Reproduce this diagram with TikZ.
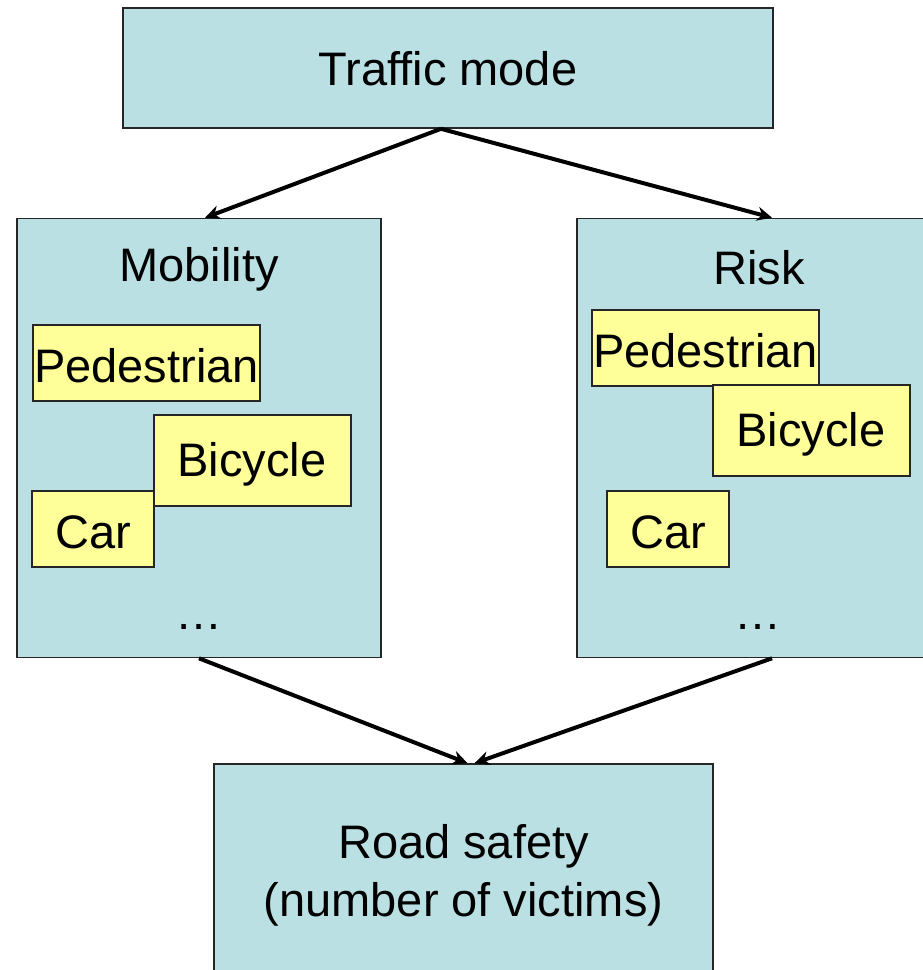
\documentclass[tikz,border=0pt]{standalone}
\usepackage{fontspec}
\setmainfont{Liberation Sans}
\usetikzlibrary{arrows.meta,calc}
\definecolor{boxblue}{HTML}{BBE0E3}
\definecolor{boxyellow}{HTML}{FFFF99}
\tikzset{
  bluebox/.style={draw=black!85, line width=1.6pt, fill=boxblue, inner sep=0pt, anchor=center},
  yelbox/.style={draw=black!85, line width=1.6pt, fill=boxyellow, inner sep=0pt, anchor=center},
  txt/.style={inner sep=0pt, anchor=center, font=\fontsize{47}{58}\selectfont},
  conn/.style={line width=4pt, -{Stealth[length=15pt,width=14pt]}}
}
\begin{document}
\begin{tikzpicture}[x=1pt,y=-1pt]
\useasboundingbox (0,0) rectangle (923,970);
\clip (0,0) rectangle (923,970);
% top box
\node[bluebox, minimum width=650pt, minimum height=120pt] (tm) at (448,68) {};
\node[txt] (tmt) at (448,69) {Traffic mode};
% mobility
\node[bluebox, minimum width=364pt, minimum height=439pt] (mob) at (199,438) {};
\node[txt] (mobt) at (199,269) {Mobility};
\node[yelbox, minimum width=227pt, minimum height=76pt] (mp) at (146.5,363) {};
\node[txt] (mpt) at (146.5,366) {Pedestrian};
\node[yelbox, minimum width=197pt, minimum height=91pt] (mb) at (252.5,460.5) {};
\node[txt] (mbt) at (252,464) {Bicycle};
\node[yelbox, minimum width=122pt, minimum height=76pt] (mc) at (93,529) {};
\node[txt] (mct) at (93,532) {Car};
\node[txt] (md) at (199,627) {\dots};
% risk
\node[bluebox, minimum width=390pt, minimum height=439pt] (risk) at (772,438) {};
\node[txt] (riskt) at (759,268) {Risk};
\node[yelbox, minimum width=227pt, minimum height=76pt] (rp) at (705.5,348) {};
\node[txt] (rpt) at (705.5,351) {Pedestrian};
\node[yelbox, minimum width=197pt, minimum height=91pt] (rb) at (811.5,430.5) {};
\node[txt] (rbt) at (811,434) {Bicycle};
\node[yelbox, minimum width=122pt, minimum height=76pt] (rc) at (668,529) {};
\node[txt] (rct) at (668,532) {Car};
\node[txt] (rd) at (758,627) {\dots};
% road safety
\node[bluebox, minimum width=499pt, minimum height=260pt] (rs) at (463.5,894) {};
\node[txt, align=center] (rst) at (463.5,875) {Road safety\\(number of victims)};
% connectors
\draw[conn] ($(tm.south)+(-7,0)$) -- ($(mob.north)+(6,0)$);
\draw[conn] ($(tm.south)+(-7,0)$) -- (risk.north);
\draw[conn] (mob.south) -- ($(rs.north)+(4,0)$);
\draw[conn] (risk.south) -- ($(rs.north)+(11,0)$);
\end{tikzpicture}
\end{document}
